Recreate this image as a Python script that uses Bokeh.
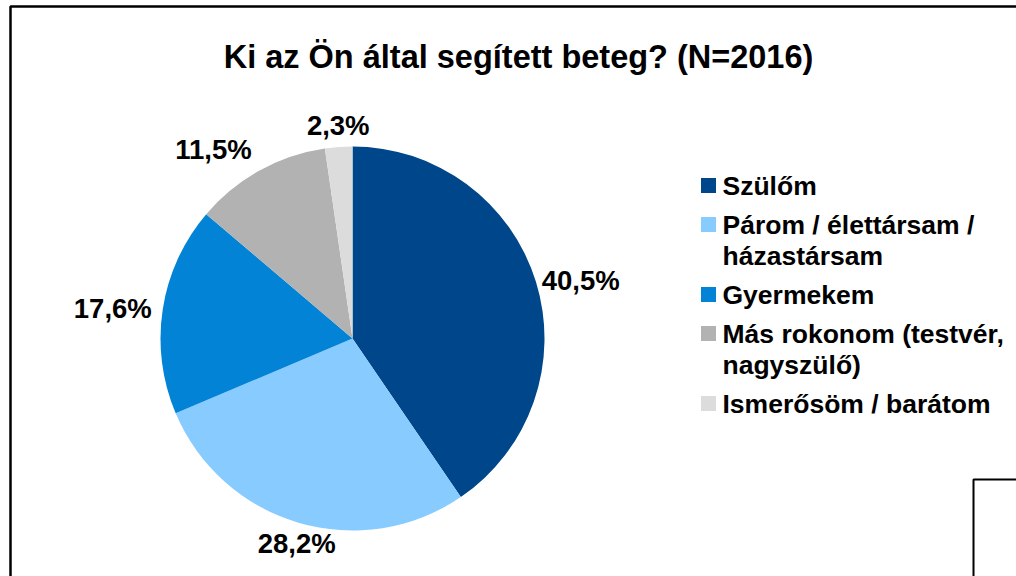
import math
from bokeh.plotting import figure
from bokeh.models import Range1d, ColumnDataSource
from bokeh.core.properties import value
from bokeh.embed import file_html
from bokeh.resources import INLINE

# ---- data ----
title_text = "Ki az Ön által segített beteg? (N=2016)"
categories = [
    "Szülőm",
    "Párom / élettársam /\nházastársam",
    "Gyermekem",
    "Más rokonom (testvér,\nnagyszülő)",
    "Ismerősöm / barátom",
]
values = [40.5, 28.2, 17.6, 11.5, 2.3]
colors = ["#00468A", "#87CBFF", "#0283D5", "#B2B2B2", "#DCDCDC"]

FONT = "Liberation Sans"

W, H = 1016, 576
p = figure(width=W, height=H, x_range=Range1d(0, W), y_range=Range1d(0, H),
           output_backend="svg", toolbar_location=None, min_border=0,
           x_axis_type=None, y_axis_type=None)
p.grid.visible = False
p.outline_line_color = None
p.background_fill_color = "white"
p.border_fill_color = "white"


def sx(x):
    return x


def sy(y):
    return H - y


# ---- frame decorations ----
p.line(x=[sx(10), sx(10), W], y=[0, sy(6), sy(6)], line_color="black", line_width=2.5)
p.line(x=[sx(973), sx(973), W], y=[0, sy(479), sy(479)], line_color="black", line_width=2)

# ---- title ----
p.text(x=[sx(518)], y=[sy(56)], text=[title_text], text_font=value(FONT),
       text_font_style="bold", text_font_size="32.5px", text_align="center",
       text_baseline="middle", text_color="black")

# ---- pie ----
cx, cy, R = sx(352), sy(338), 192
total = sum(values)
starts, ends, mids = [], [], []
cum = 0.0
for v in values:
    a0 = math.pi / 2 - 2 * math.pi * cum / total
    cum += v
    a1 = math.pi / 2 - 2 * math.pi * cum / total
    starts.append(a0)
    ends.append(a1)
    mids.append((a0 + a1) / 2)

src = ColumnDataSource(dict(start=starts, end=ends, color=colors))
p.wedge(x=cx, y=cy, radius=R, start_angle="start", end_angle="end",
        direction="clock", fill_color="color", line_color=None, source=src)

# ---- data labels ----
gap = 6
for v, m in zip(values, mids):
    c, s = math.cos(m), math.sin(m)
    x = cx + (R + gap) * c
    y = cy + (R + gap) * s
    t = f"{v:.1f}".replace(".", ",") + "%"
    a = "left" if c > 0.3 else ("right" if c < -0.3 else "center")
    b = "bottom" if s > 0.3 else ("top" if s < -0.3 else "middle")
    if a == "right":
        x -= 5
    p.text(x=[x], y=[y], text=[t], text_font=value(FONT), text_font_style="bold",
           text_font_size="27.5px", text_align=a, text_baseline=b, text_color="black")

# ---- legend ----
leg_x_sq, leg_x_txt = sx(708), sx(722)
center = 185
entry_step, line_step = 39, 31
sq_x, sq_y, tx, ty, tt = [], [], [], [], []
for cat in categories:
    lines = cat.split("\n")
    sq_x.append(leg_x_sq)
    sq_y.append(sy(center))
    for k, ln in enumerate(lines):
        tx.append(leg_x_txt)
        ty.append(sy(center + k * line_step))
        tt.append(ln)
    center += entry_step + (len(lines) - 1) * line_step

p.rect(x=sq_x, y=sq_y, width=15, height=15, fill_color=colors, line_color=None)
p.text(x=tx, y=ty, text=tt, text_font=value(FONT), text_font_style="bold",
       text_font_size="26.5px", text_align="left", text_baseline="middle",
       text_color="black")

open("out.html", "w").write(file_html(p, INLINE))
